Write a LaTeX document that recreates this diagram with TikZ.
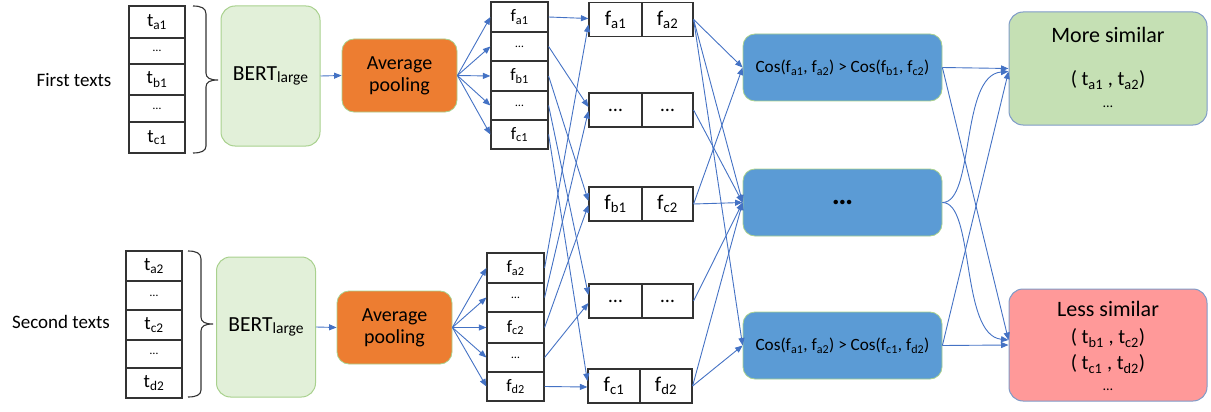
\documentclass[tikz,border=0pt]{standalone}
\usepackage{fontspec}
\setmainfont{Carlito}
\usetikzlibrary{arrows.meta,calc}
\definecolor{linkblue}{HTML}{4472C4}
\definecolor{bertfill}{HTML}{E2F0D9}
\definecolor{bertdraw}{HTML}{A9D18E}
\definecolor{poolfill}{HTML}{ED7D31}
\definecolor{cosfill}{HTML}{5B9BD5}
\definecolor{morefill}{HTML}{C5E0B4}
\definecolor{lessfill}{HTML}{FF9999}
\definecolor{resdraw}{HTML}{7F9BC8}
\definecolor{celldraw}{HTML}{333333}
\newcommand\fs[1]{\fontsize{#1}{#1}\selectfont}
\newcommand\sbs[1]{\textsubscript{#1}}
\begin{document}
\begin{tikzpicture}[x=1pt,y=-1pt,
  conn/.style={draw=linkblue, line width=0.9pt, -{Triangle[length=7.5pt,width=6pt]}},
  cell/.style={draw=celldraw, line width=1.2pt, fill=white, inner sep=0pt},
  txt/.style={inner sep=0pt, text=black},
  bert/.style={draw=bertdraw, fill=bertfill, line width=1pt, rounded corners=14pt, minimum width=99pt, minimum height=140pt, inner sep=0pt, font={\fs{21.5}}},
  pool/.style={draw=bertdraw, fill=poolfill, line width=0.8pt, rounded corners=12pt, minimum width=115pt, minimum height=73pt, inner sep=0pt, align=center, font={\fs{20}}},
  cosbox/.style={draw=bertdraw, fill=cosfill, line width=0.8pt, rounded corners=12pt, minimum width=199pt, minimum height=67pt, inner sep=0pt, font={\fs{17.2}}},
  resbox/.style={draw=resdraw, line width=1pt, rounded corners=14pt, minimum width=198pt, inner sep=0pt},
  brc/.style={draw=celldraw, line width=1.1pt},
]
\useasboundingbox (0,0) rectangle (1211,412);

% ---------- labels ----------
\node[txt, font={\fs{19}}] (lab1) at (74,80) {First texts};
\node[txt, font={\fs{19}}] (lab2) at (61,322) {Second texts};

% ---------- text stacks ----------
\begin{scope}[every node/.append style={cell, minimum width=56pt}]
\node[minimum height=32pt, font={\fs{19}}] (ta1) at (157,22) {t\sbs{a1}};
\node[minimum height=26pt, font={\fs{12}}] (tx1) at (157,51) {\ldots};
\node[minimum height=31pt, font={\fs{19}}] (tb1) at (157,79.5) {t\sbs{b1}};
\node[minimum height=27pt, font={\fs{12}}] (ty1) at (157,108.5) {\ldots};
\node[minimum height=31pt, font={\fs{19}}] (tc1) at (157,137.5) {t\sbs{c1}};
\node[minimum height=30pt, font={\fs{19}}] (ta2) at (154,266) {t\sbs{a2}};
\node[minimum height=29pt, font={\fs{12}}] (tx2) at (154,295.5) {\ldots};
\node[minimum height=30pt, font={\fs{19}}] (tc2) at (154,325) {t\sbs{c2}};
\node[minimum height=28pt, font={\fs{12}}] (ty2) at (154,354) {\ldots};
\node[minimum height=30pt, font={\fs{19}}] (td2) at (154,383) {t\sbs{d2}};
\end{scope}

% ---------- braces ----------
\draw[brc] (193,6) .. controls (201,6) and (206,8) .. (206,14) -- (206,73)
  .. controls (206,78) and (210,80) .. (218,80)
  .. controls (210,80) and (206,82) .. (206,87) -- (206,146)
  .. controls (206,151) and (201,153) .. (193,153);
\draw[brc] (188,251) .. controls (196,251) and (201,253) .. (201,259) -- (201,317)
  .. controls (201,322) and (205,324) .. (213,324)
  .. controls (205,324) and (201,326) .. (201,331) -- (201,390)
  .. controls (201,395) and (196,397) .. (188,397);

% ---------- BERT ----------
\node[bert] (bert1) at (270.5,76) {BERT\raisebox{-1.5pt}{\fs{15.5}large}};
\node[bert] (bert2) at (266,327) {BERT\raisebox{-1.5pt}{\fs{15.5}large}};

% ---------- pooling ----------
\node[pool] (pool1) at (399.5,75.5) {Average\\[2pt]pooling};
\node[pool] (pool2) at (394.5,327.5) {Average\\[2pt]pooling};

\draw[conn] (bert1.east) -- (pool1.west);
\draw[conn] (bert2.east) -- (pool2.west);

% ---------- feature stacks ----------
\begin{scope}[every node/.append style={cell, minimum width=57pt}]
\node[minimum height=30pt, font={\fs{17.5}}] (fa1) at (519.5,17) {f\sbs{a1}};
\node[minimum height=29pt, font={\fs{12}}] (fx1) at (519.5,46.5) {\ldots};
\node[minimum height=30pt, font={\fs{17.5}}] (fb1) at (519.5,76) {f\sbs{b1}};
\node[minimum height=29pt, font={\fs{12}}] (fy1) at (519.5,105.5) {\ldots};
\node[minimum height=29pt, font={\fs{17.5}}] (fc1) at (519.5,134.5) {f\sbs{c1}};
\node[minimum height=30pt, font={\fs{17.5}}] (fa2) at (515.5,268) {f\sbs{a2}};
\node[minimum height=29pt, font={\fs{12}}] (fx2) at (515.5,297.5) {\ldots};
\node[minimum height=31pt, font={\fs{17.5}}] (fc2) at (515.5,327.5) {f\sbs{c2}};
\node[minimum height=29pt, font={\fs{12}}] (fy2) at (515.5,357.5) {\ldots};
\node[minimum height=29pt, font={\fs{17.5}}] (fd2) at (515.5,386.5) {f\sbs{d2}};
\end{scope}

\foreach \n in {fa1,fx1,fb1,fy1,fc1} \draw[conn] (pool1.east) -- (\n.west);
\foreach \n in {fa2,fx2,fc2,fy2,fd2} \draw[conn] (pool2.east) -- (\n.west);

% ---------- pair boxes ----------
\begin{scope}[every node/.append style={cell, minimum height=34pt}]
\node[minimum width=53pt, font={\fs{21}}] (p1l) at (615.5,19.5) {f\sbs{a1}};
\node[minimum width=51pt, font={\fs{21}}] (p1r) at (667.5,19.5) {f\sbs{a2}};
\node[minimum width=53pt, font={\fs{20}}] (p2l) at (615.5,110) {\ldots};
\node[minimum width=51pt, font={\fs{20}}] (p2r) at (667.5,110) {\ldots};
\node[minimum width=53pt, font={\fs{21}}] (p3l) at (615.5,204) {f\sbs{b1}};
\node[minimum width=51pt, font={\fs{21}}] (p3r) at (667.5,204) {f\sbs{c2}};
\node[minimum width=53pt, font={\fs{20}}] (p4l) at (615.5,301) {\ldots};
\node[minimum width=51pt, font={\fs{20}}] (p4r) at (667.5,301) {\ldots};
\node[minimum width=52pt, font={\fs{21}}] (p5l) at (614,386) {f\sbs{c1}};
\node[minimum width=52pt, font={\fs{21}}] (p5r) at (666,386) {f\sbs{d2}};
\end{scope}

\draw[conn] (fa1.east) -- ($(p1l.west)+(0,-1)$);
\draw[conn] (fx1.east) -- ($(p2l.west)+(0,-3)$);
\draw[conn] (fb1.east) -- ($(p3l.west)+(0,-3)$);
\draw[conn] (fy1.east) -- ($(p4l.west)+(0,-6)$);
\draw[conn] (fc1.east) -- ($(p5l.west)+(0,-5)$);
\draw[conn] (fa2.east) -- ($(p1l.west)+(0,5)$);
\draw[conn] (fx2.east) -- ($(p2l.west)+(0,1)$);
\draw[conn] (fc2.east) -- ($(p3l.west)+(0,1)$);
\draw[conn] (fy2.east) -- ($(p4l.west)+(0,2)$);
\draw[conn] (fd2.east) -- ($(p5l.west)+(0,1)$);

% ---------- cosine boxes ----------
\node[cosbox] (cos1) at (842.5,67.5) {Cos(f\sbs{a1}, f\sbs{a2}) > Cos(f\sbs{b1}, f\sbs{c2})};
\node[cosbox, font={\fs{30}\bfseries}] (cos2) at (842.5,202.5) {\ldots};
\node[cosbox] (cos3) at (842.5,345.5) {Cos(f\sbs{a1}, f\sbs{a2}) > Cos(f\sbs{c1}, f\sbs{d2})};

\draw[conn] (p1r.east) -- (cos1.west);
\draw[conn] (p1r.east) -- (cos2.west);
\draw[conn] (p1r.east) -- (cos3.west);
\draw[conn] (p2r.east) -- (cos2.west);
\draw[conn] (p3r.east) -- (cos1.west);
\draw[conn] (p3r.east) -- (cos2.west);
\draw[conn] (p4r.east) -- (cos2.west);
\draw[conn] (p5r.east) -- (cos2.west);
\draw[conn] (p5r.east) -- (cos3.west);

% ---------- result boxes ----------
\node[resbox, fill=morefill, minimum height=113pt] (more) at (1108,68.5) {};
\node[txt, font={\fs{22}}] (moret) at (1108,35) {More similar};
\node[txt, font={\fs{20.5}}] (morep) at (1108,80) {( t\sbs{a1} , t\sbs{a2})};
\node[txt, font={\fs{14}}] (moree) at (1108,107) {\ldots};

\node[resbox, fill=lessfill, minimum height=112pt] (less) at (1108,345) {};
\node[txt, font={\fs{22}}] (lesst) at (1108,309) {Less similar};
\node[txt, font={\fs{20.5}}] (lessp1) at (1108,338) {( t\sbs{b1} , t\sbs{c2})};
\node[txt, font={\fs{20.5}}] (lessp2) at (1108,364) {( t\sbs{c1} , t\sbs{d2})};
\node[txt, font={\fs{14}}] (lesse) at (1108,390) {\ldots};

\draw[conn] (cos1.east) -- (more.west);
\draw[conn] (cos1.east) -- ($(less.west)+(0,-5)$);
\draw[conn] (cos3.east) -- (less.west);
\draw[conn] (cos3.east) -- ($(more.west)+(0,3)$);
\draw[conn] (cos2.east) .. controls (975,202.5) and (960,75) .. ($(more.west)+(0,3)$);
\draw[conn] (cos2.east) .. controls (975,202.5) and (960,335) .. ($(less.west)+(0,-5)$);
\end{tikzpicture}
\end{document}
